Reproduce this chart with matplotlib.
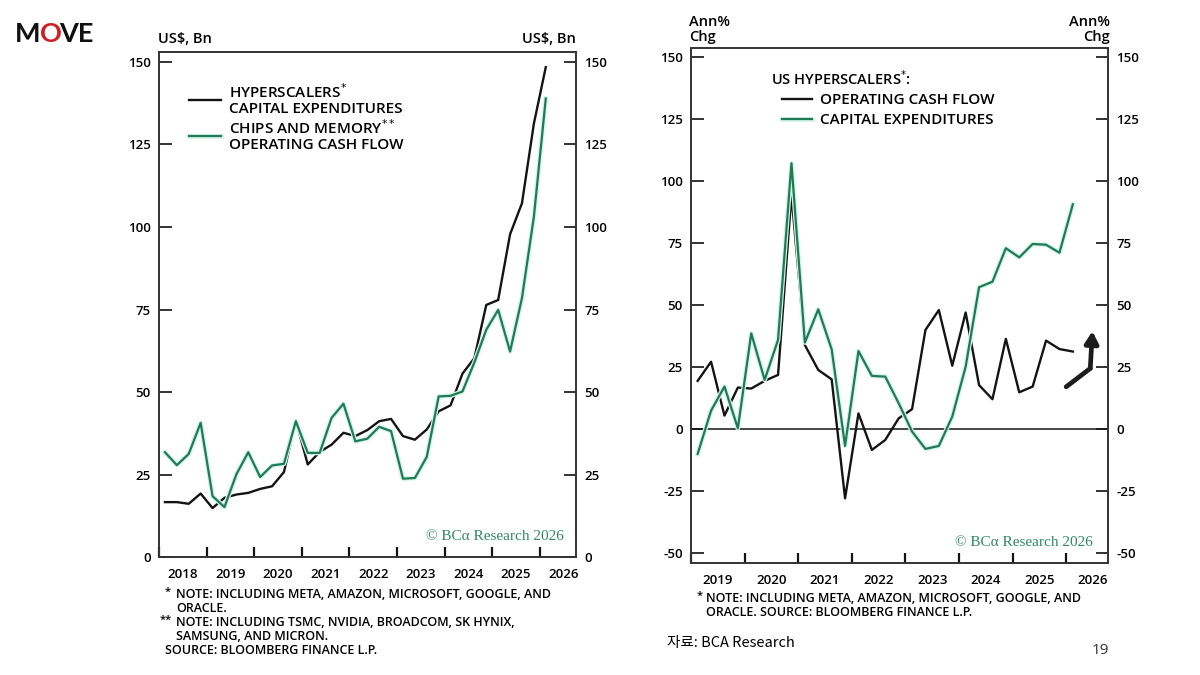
import numpy as np
import pandas as pd
import matplotlib
matplotlib.use("Agg")
import matplotlib.pyplot as plt
import matplotlib.patheffects as pe

plt.rcParams['font.family'] = ['Open Sans', 'DejaVu Sans']

# quarterly data, Q1 2018 .. Q1 2026 (left) and Q1 2019 .. Q1 2026 (right)
q_left = pd.period_range('2018Q1', '2026Q1', freq='Q')
q_right = pd.period_range('2019Q1', '2026Q1', freq='Q')

hyper_capex = [16.7, 16.7, 16.2, 19.3, 14.9, 18.0, 19.0, 19.5, 20.7, 21.5, 25.8,
               41.4, 28.1, 31.9, 34.1, 37.7, 36.7, 38.5, 41.2, 41.9, 36.7, 35.6,
               38.7, 44.2, 46.0, 55.6, 60.3, 76.4, 77.9, 97.8, 107.2, 131.3, 148.4]
chips_ocf = [31.8, 27.9, 31.3, 40.7, 18.5, 15.2, 25.1, 31.8, 24.3, 27.8, 28.3,
             41.2, 31.6, 31.6, 42.2, 46.5, 35.1, 35.9, 39.5, 38.2, 23.8, 24.0,
             30.4, 48.7, 48.9, 50.2, 59.0, 68.9, 74.9, 62.3, 78.5, 103.1, 138.9]

us_ocf = [19.5, 27.2, 5.5, 16.8, 16.4, 19.5, 21.9, 94.3, 33.9, 23.9, 20.1, -27.8,
          6.4, -8.3, -4.3, 4.4, 8.1, 40.0, 48.0, 25.6, 47.0, 17.8, 12.1, 36.4,
          14.9, 17.2, 35.7, 32.3, 31.3]
us_capex = [-9.9, 7.5, 17.2, 0.4, 38.6, 19.9, 36.0, 107.1, 34.9, 48.3, 32.2, -6.7,
            31.5, 21.5, 21.2, 10.5, -0.9, -7.9, -6.7, 5.1, 25.2, 57.2, 59.4, 72.9,
            69.2, 74.6, 74.3, 71.1, 90.6]

left_years = list(range(2018, 2027))
right_years = list(range(2019, 2027))
left_yticks = [0, 25, 50, 75, 100, 125, 150]
right_yticks = [-50, -25, 0, 25, 50, 75, 100, 125, 150]

# hand drawn arrow on the right chart (start, bend, tip)
arrow_pts = [(2026.0, 17.1), (2026.45, 24.5), (2026.49, 39.5)]


def qx(periods):
    return np.array([p.year + (p.quarter - 0.5) / 4 for p in periods])


BLACK = '#141414'
GREEN = '#1f7a55'
GLOW = [pe.Stroke(linewidth=3.4, foreground='#d2f4ea'), pe.Normal()]
TICKFONT = dict(fontsize=9.5, fontweight='semibold')

fig = plt.figure(figsize=(12, 6.75), dpi=100)
fig.patch.set_facecolor('white')

ax1 = fig.add_axes([0.1325, 0.1744, 0.3475, 0.7486])
ax2 = fig.add_axes([0.5758, 0.1664, 0.3475, 0.7625])


def style_axes(ax, years, yticks, ylim):
    ax.set_xlim(years[0], years[0] + (8.76 if len(years) == 9 else 7.78))
    ax.set_ylim(*ylim)
    ax.set_xticks(years)
    ax.set_xticklabels([])
    ax.set_xticks([y + 0.5 for y in years], minor=True)
    ax.set_xticklabels([str(y) for y in years], minor=True, **TICKFONT)
    ax.tick_params(axis='x', which='major', direction='in', length=7, width=1.6, color=BLACK)
    ax.tick_params(axis='x', which='minor', length=0, pad=8)
    ax.set_yticks(yticks)
    ax.set_yticklabels([str(v) for v in yticks], **TICKFONT)
    ax.tick_params(axis='y', direction='in', length=9, width=1.4, left=True, right=True,
                   labelleft=True, labelright=True, pad=6, color='#333333')
    for s in ax.spines.values():
        s.set_linewidth(1.4)
        s.set_color('#333333')


# ---- left chart
style_axes(ax1, left_years, left_yticks, (0, 153))
ax1.plot(qx(q_left), hyper_capex, color=BLACK, lw=1.7,
         label='HYPERSCALERS$^{*}$\nCAPITAL EXPENDITURES')
ax1.plot(qx(q_left), chips_ocf, color=GREEN, lw=1.6, path_effects=GLOW,
         label='CHIPS AND MEMORY$^{**}$\nOPERATING CASH FLOW')
leg1 = ax1.legend(loc='upper left', bbox_to_anchor=(0.072, 0.939), frameon=False,
                  fontsize=11, handlelength=2.1, handletextpad=0.5, labelspacing=0.15,
                  borderpad=0, borderaxespad=0)
for t in leg1.get_texts():
    t.set_fontweight('semibold')
    t.set_linespacing(1.08)
ax1.text(0.97, 0.042, '© BCα Research 2026', transform=ax1.transAxes, ha='right',
         va='center', fontsize=11, color='#2e8a62', family=['Liberation Serif', 'DejaVu Serif'])

# ---- right chart
style_axes(ax2, right_years, right_yticks, (-53.7, 153.5))
ax2.axhline(0, color=BLACK, lw=1.1)
ax2.plot(qx(q_right), us_ocf, color=BLACK, lw=1.7, label='OPERATING CASH FLOW')
ax2.plot(qx(q_right), us_capex, color=GREEN, lw=1.6, path_effects=GLOW,
         label='CAPITAL EXPENDITURES')
ax2.text(0.192, 0.940, 'US HYPERSCALERS$^{*}$:', transform=ax2.transAxes, fontsize=10.5,
         fontweight='semibold', va='center')
leg2 = ax2.legend(loc='upper left', bbox_to_anchor=(0.218, 0.912), frameon=False,
                  fontsize=11, handlelength=2.0, handletextpad=0.5, labelspacing=0.4,
                  borderpad=0, borderaxespad=0)
for t in leg2.get_texts():
    t.set_fontweight('semibold')
ax2.text(0.964, 0.04, '© BCα Research 2026', transform=ax2.transAxes, ha='right',
         va='center', fontsize=11, color='#2e8a62', family=['Liberation Serif', 'DejaVu Serif'])

ax2.plot([arrow_pts[0][0], arrow_pts[1][0]], [arrow_pts[0][1], arrow_pts[1][1]],
         color='#1c1c1c', lw=3.4, solid_capstyle='round')
ax2.annotate('', xy=arrow_pts[2], xytext=arrow_pts[1],
             arrowprops=dict(arrowstyle='-|>,head_length=0.7,head_width=0.4',
                             color='#1c1c1c', lw=3.4, shrinkA=0, shrinkB=0))

# ---- unit labels above the axes
fig.text(0.1317, 1 - 46 / 675, 'US$, Bn', fontsize=10.5, fontweight='semibold', va='bottom')
fig.text(0.48, 1 - 46 / 675, 'US$, Bn', fontsize=10.5, fontweight='semibold', va='bottom',
         ha='right')
fig.text(0.574, 1 - 44 / 675, 'Ann%\nChg', fontsize=10.5, fontweight='semibold', va='bottom',
         linespacing=1.05)
fig.text(0.925, 1 - 44 / 675, 'Ann%\nChg', fontsize=10.5, fontweight='semibold', va='bottom',
         ha='right', linespacing=1.05)

# ---- notes
NOTE = dict(fontsize=9, fontweight='semibold', va='center')
STAR = dict(fontsize=8, fontweight='semibold', va='center', ha='right')
fig.text(0.1425, 1 - 592 / 675, '*', **STAR)
fig.text(0.1465, 1 - 594 / 675, 'NOTE: INCLUDING META, AMAZON, MICROSOFT, GOOGLE, AND', **NOTE)
fig.text(0.1465, 1 - 608 / 675, 'ORACLE.', **NOTE)
fig.text(0.1435, 1 - 620 / 675, '**', **STAR)
fig.text(0.1465, 1 - 622 / 675, 'NOTE: INCLUDING TSMC, NVIDIA, BROADCOM, SK HYNIX,', **NOTE)
fig.text(0.1465, 1 - 636 / 675, 'SAMSUNG, AND MICRON.', **NOTE)
fig.text(0.1375, 1 - 651 / 675, 'SOURCE: BLOOMBERG FINANCE L.P.', **NOTE)

fig.text(0.5855, 1 - 596 / 675, '*', **STAR)
fig.text(0.5885, 1 - 598 / 675, 'NOTE: INCLUDING META, AMAZON, MICROSOFT, GOOGLE, AND', **NOTE)
fig.text(0.5885, 1 - 613 / 675, 'ORACLE. SOURCE: BLOOMBERG FINANCE L.P.', **NOTE)

fig.text(0.556, 1 - 643 / 675, '자료: BCA Research', fontsize=10.5, va='center',
         family=['Noto Sans CJK KR', 'DejaVu Sans'])
fig.text(0.917, 1 - 650 / 675, '19', fontsize=11, va='center', ha='center', color='#333333')

# ---- logo
LOGO = dict(fontsize=19.5, fontweight='bold', va='center', family=['Lato', 'DejaVu Sans'])
fig.text(0.0125, 1 - 34 / 675, 'M', color='#111111', **LOGO)
fig.text(0.0125 + 0.0205, 1 - 34 / 675, 'O', color='#d11f26', **LOGO)
fig.text(0.0125 + 0.037, 1 - 34 / 675, 'VE', color='#111111', **LOGO)

fig.savefig('out.png', dpi=100)
